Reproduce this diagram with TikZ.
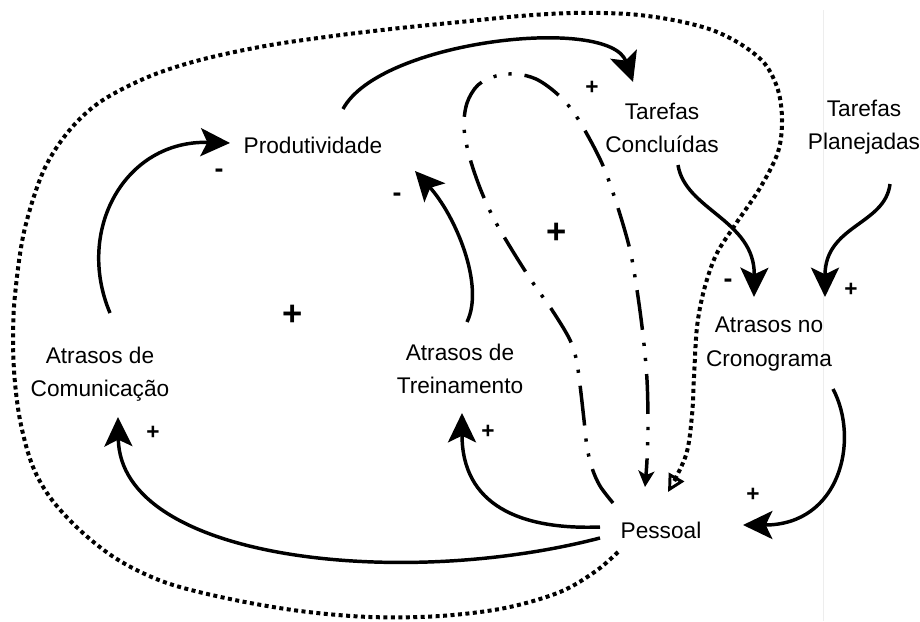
\documentclass[tikz,border=0pt]{standalone}
\usepackage{fontspec}
\setmainfont{Liberation Sans}
\usetikzlibrary{arrows.meta,calc}
\begin{document}
\begin{tikzpicture}[x=0.75pt,y=-0.75pt,
  lbl/.style={font=\fontsize{17}{25}\selectfont, align=center, inner sep=0pt},
  sgnplus/.style={font=\bfseries\fontsize{17}{17}\selectfont, inner sep=0pt},
  sgnminus/.style={font=\bfseries\fontsize{20}{20}\selectfont, inner sep=0pt},
  sgnbig/.style={font=\bfseries\fontsize{26}{26}\selectfont, inner sep=0pt},
  link/.style={line width=2.6pt, -{Stealth[length=22pt,width=21pt,inset=5pt]}},
  dotloop/.style={line width=3pt, dash pattern=on 3pt off 2.6pt,
    -{Triangle[open,length=13pt,width=13pt,line width=2.2pt]}},
  dashloop/.style={line width=2.6pt,
    dash pattern=on 30pt off 9.75pt on 2.4pt off 9pt on 2.4pt off 9.75pt,
    -{Stealth[length=12pt,width=12pt,inset=3pt]}}]

% canvas
\fill[white] (0,0) rectangle (920,621);
\useasboundingbox (0,0) rectangle (920,621);
\draw[black!7, line width=0.75pt] (823,10) -- (823,621);

% variables
\node[lbl] (prod)   at (313,145) {Produtividade};
\node[lbl] (tconc)  at (662,128) {Tarefas\\Conclu\'idas};
\node[lbl] (tplan)  at (864,127) {Tarefas\\Planejadas};
\node[lbl] (acron)  at (769,344) {Atrasos no\\Cronograma};
\node[lbl] (acom)   at (100,374) {Atrasos de\\Comunica\c{c}\~ao};
\node[lbl] (atrein) at (460,369) {Atrasos de\\Treinamento};
\node[lbl] (pess)   at (661,530) {Pessoal};

% causal links
\draw[link] ($(acom.center)+(10,-61)$) .. controls (75,230) and (125,140) .. ($(prod.center)+(-83,-2)$);
\draw[link] ($(atrein.center)+(7,-47)$) .. controls (485,285) and (455,215) .. ($(prod.center)+(102,26)$);
\draw[link] ($(prod.center)+(30,-36)$) .. controls (380,40) and (610,15) .. ($(tconc.center)+(-29,-46)$);
\draw[link] ($(tconc.center)+(16,37)$) .. controls (685,210) and (755,220) .. ($(acron.center)+(-15,-47)$);
\draw[link] ($(tplan.center)+(26,57)$) .. controls (885,225) and (825,225) .. ($(acron.center)+(56,-47)$);
\draw[link] ($(acron.center)+(64,45)$) .. controls (860,440) and (840,525) .. ($(pess.center)+(82,-5)$);
\draw[link] ($(pess.center)+(-61,-3)$) .. controls (520,530) and (462,505) .. ($(atrein.center)+(2,44)$);
\draw[link] ($(pess.center)+(-61,8)$) .. controls (400,590) and (120,560) .. ($(acom.center)+(18,43)$);

% outer dotted loop
\coordinate (dotS) at ($(pess.center)+(-43,22)$);
\coordinate (dotE) at ($(pess.center)+(7,-38)$);
\draw[dotloop] plot[smooth, tension=0.55] coordinates {(dotS) (596,571) (560,592) (505,608)
  (440,616) (370,617) (300,611) (230,599) (167,583) (120,561) (83,533) (52,500) (33,467)
  (21,425) (15,383) (13,340) (15,295) (24,232) (43,172) (68,132) (100,102) (148,77)
  (200,60) (265,46) (333,36) (400,28) (460,22) (520,16) (573,13) (628,14) (673,20)
  (712,30) (742,45) (765,64) (778,90) (782,120) (778,152) (760,188) (735,225) (716,255)
  (704,290) (697,327) (694,377) (692,415) (686,455) (dotE)};

% inner dash-dot loop
\coordinate (dashS) at ($(pess.center)+(-48,-27)$);
\coordinate (dashE) at ($(pess.center)+(-16,-43)$);
\draw[dashloop] plot[smooth, tension=0.55] coordinates {(dashS) (600,486) (592,468) (587,447)
  (584,420) (580,385) (576,358) (569,338) (552,310) (533,283) (512,250) (494,219)
  (480,188) (469,155) (464,127) (467,103) (478,85) (496,76) (516,74) (536,79) (555,92)
  (572,110) (588,136) (604,168) (618,208) (630,250) (637,290) (643,335) (647,380)
  (648,425) (647,460) (dashE)};

% polarities
\node[sgnminus] (s1) at (219,173) {-};
\node[sgnminus] (s2) at (397,197) {-};
\node[sgnplus]  (s3) at (592,88) {+};
\node[sgnminus] (s4) at (728,283) {-};
\node[sgnplus]  (s5) at (851,290) {+};
\node[sgnplus]  (s6) at (753,495) {+};
\node[sgnplus]  (s7) at (488,432) {+};
\node[sgnplus]  (s8) at (153,433) {+};
\node[sgnbig]   (r1) at (293,315) {+};
\node[sgnbig]   (r2) at (557,233) {+};
\end{tikzpicture}
\end{document}
